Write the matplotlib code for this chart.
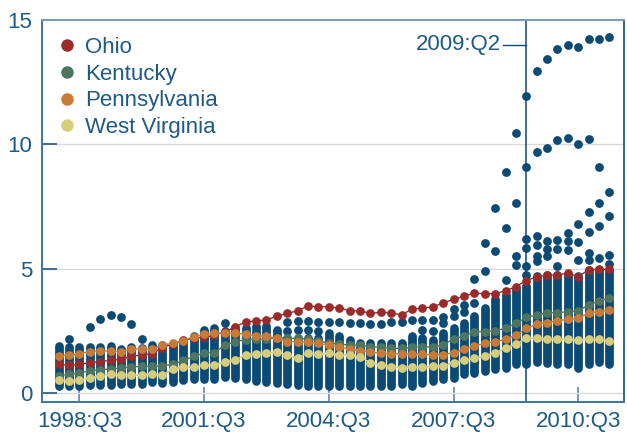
import numpy as np
import matplotlib.pyplot as plt
from matplotlib.lines import Line2D

plt.rcParams['font.family'] = ['Liberation Sans', 'DejaVu Sans']

# -------- datos --------
quarters = [f'{y}:Q{q}' for y in range(1998, 2012) for q in range(1, 5)][:54]
x = np.arange(len(quarters))

ohio = [1.15, 1.12, 1.15, 1.22, 1.26, 1.32, 1.35, 1.48, 1.53, 1.58,
        1.83, 1.98, 2.12, 2.20, 2.25, 2.32, 2.47, 2.66, 2.86, 2.90,
        2.94, 3.09, 3.20, 3.31, 3.50, 3.47, 3.47, 3.42, 3.31, 3.30,
        3.21, 3.24, 3.23, 3.14, 3.38, 3.41, 3.47, 3.62, 3.77, 3.89,
        4.02, 3.99, 4.00, 4.11, 4.28, 4.52, 4.68, 4.73, 4.75, 4.82,
        4.68, 4.96, 4.97, 4.97]
kentucky = [0.70, 0.75, 0.80, 0.90, 0.94, 0.97, 1.00, 1.05, 1.07, 1.07,
            1.10, 1.15, 1.31, 1.47, 1.61, 1.62, 1.93, 2.06, 2.15, 2.16,
            2.17, 2.23, 2.20, 2.20, 2.17, 2.10, 2.00, 1.97, 1.93, 1.93,
            1.86, 1.85, 1.80, 1.80, 1.84, 1.86, 1.84, 1.93, 2.18, 2.29,
            2.47, 2.47, 2.51, 2.60, 2.80, 3.04, 3.14, 3.23, 3.23, 3.27,
            3.31, 3.54, 3.71, 3.81]
pennsylvania = [1.50, 1.52, 1.58, 1.67, 1.70, 1.69, 1.66, 1.77, 1.77, 1.76,
                1.93, 2.00, 2.11, 2.26, 2.36, 2.40, 2.42, 2.40, 2.37, 2.30,
                2.29, 2.20, 2.07, 2.06, 2.05, 2.00, 1.93, 1.86, 1.76, 1.71,
                1.66, 1.60, 1.59, 1.57, 1.57, 1.57, 1.53, 1.54, 1.62, 1.76,
                1.89, 2.00, 2.06, 2.16, 2.33, 2.60, 2.78, 2.83, 2.91, 2.96,
                3.00, 3.23, 3.27, 3.34]
west_virginia = [0.51, 0.47, 0.53, 0.60, 0.70, 0.75, 0.72, 0.71, 0.72, 0.77,
                 0.72, 0.98, 1.05, 1.03, 1.13, 1.13, 1.25, 1.34, 1.53, 1.58,
                 1.62, 1.66, 1.52, 1.40, 1.62, 1.57, 1.60, 1.53, 1.52, 1.46,
                 1.22, 1.13, 1.06, 1.02, 1.06, 1.03, 1.09, 1.09, 1.22, 1.33,
                 1.39, 1.49, 1.62, 1.80, 1.97, 2.20, 2.20, 2.16, 2.16, 2.16,
                 2.13, 2.16, 2.16, 2.10]

# resto de las series: rango denso por trimestre + puntos sueltos
resto_min = [0.30, 0.30, 0.30, 0.32, 0.33, 0.33, 0.35, 0.35, 0.38, 0.44,
             0.39, 0.44, 0.52, 0.58, 0.55, 0.58, 0.66, 0.62, 0.55, 0.48,
             0.44, 0.39, 0.35, 0.31, 0.28, 0.28, 0.28, 0.28, 0.28, 0.28,
             0.28, 0.28, 0.28, 0.35, 0.30, 0.42, 0.48, 0.55, 0.62, 0.75,
             0.82, 0.88, 0.98, 1.02, 1.15, 1.15, 1.25, 1.20, 1.15, 1.15,
             1.02, 1.15, 1.25, 1.15]
resto_max = [1.90, 1.85, 1.86, 1.84, 1.84, 1.90, 1.77, 1.84, 1.80, 1.95,
             1.95, 1.95, 2.00, 2.30, 2.55, 2.62, 2.50, 2.60, 2.60, 2.70,
             2.70, 2.53, 2.20, 2.20, 2.20, 2.20, 2.40, 2.30, 2.13, 2.00,
             2.00, 2.00, 2.00, 2.00, 2.30, 2.20, 2.13, 2.40, 2.60, 2.80,
             3.10, 3.40, 3.80, 3.95, 4.20, 4.30, 4.70, 4.75, 4.75, 4.80,
             4.70, 4.95, 4.95, 4.95]
resto_sueltos = {
    '1998:Q2': [2.16], '1998:Q4': [2.67], '1999:Q1': [2.96], '1999:Q2': [3.14],
    '1999:Q3': [3.05], '1999:Q4': [2.76], '2000:Q1': [2.18], '2002:Q1': [2.80],
    '2003:Q3': [2.51, 2.87], '2003:Q4': [2.53, 2.90], '2004:Q1': [2.53, 2.90],
    '2004:Q2': [2.51, 2.87], '2004:Q3': [2.87], '2004:Q4': [2.87],
    '2005:Q1': [2.80], '2005:Q2': [2.82], '2005:Q3': [2.76], '2005:Q4': [2.76],
    '2006:Q1': [2.84], '2006:Q2': [2.84], '2006:Q3': [2.94],
    '2006:Q4': [2.53, 2.94], '2007:Q1': [2.51, 2.94], '2007:Q2': [2.83, 3.07],
    '2007:Q3': [3.10, 3.37], '2007:Q4': [3.27, 3.54], '2008:Q1': [3.63, 4.57],
    '2008:Q2': [4.92, 6.05], '2008:Q3': [5.72, 7.43],
    '2008:Q4': [4.55, 6.62, 8.90], '2009:Q1': [5.15, 5.51, 7.63, 10.47],
    '2009:Q2': [4.75, 5.10, 5.85, 6.20, 9.10, 11.95],
    '2009:Q3': [5.32, 5.51, 5.95, 6.32, 9.70, 12.93],
    '2009:Q4': [5.53, 5.80, 6.10, 9.84, 13.42],
    '2010:Q1': [5.11, 5.78, 6.15, 10.18, 13.82],
    '2010:Q2': [5.75, 6.13, 6.42, 10.27, 14.00],
    '2010:Q3': [5.35, 6.09, 6.79, 10.00, 13.90],
    '2010:Q4': [5.35, 5.62, 6.48, 7.29, 10.20, 14.23],
    '2011:Q1': [5.42, 6.73, 7.65, 9.10, 14.25],
    '2011:Q2': [5.19, 5.55, 7.12, 8.07, 14.31],
}

xtick_labels = ['1998:Q3', '2001:Q3', '2004:Q3', '2007:Q3', '2010:Q3']
marca = '2009:Q2'

# -------- colores --------
azul = '#0a4a75'
texto = '#1d5a86'
series = [('Ohio', ohio, '#9b2b2b'),
          ('Kentucky', kentucky, '#4e755f'),
          ('Pennsylvania', pennsylvania, '#c97a36'),
          ('West Virginia', west_virginia, '#d6cc79')]

fig = plt.figure(figsize=(6.27, 4.34), dpi=100)
ax = fig.add_axes([42/627, 1 - 402/434, (624 - 42)/627, (402 - 20)/434])

# nube de puntos azules
ax.vlines(x, resto_min, resto_max, color=azul, lw=6.3, capstyle='round', zorder=2)
sx = [quarters.index(q) for q, vals in resto_sueltos.items() for v in vals]
sy = [v for q, vals in resto_sueltos.items() for v in vals]
ax.scatter(sx, sy, s=40, color=azul, linewidths=0, zorder=2)

# estados destacados
for z, (nombre, vals, col) in enumerate(series):
    ax.plot(x, vals, color=col, lw=1, marker='o', ms=6.3, mew=0, zorder=3 + z)

# linea vertical 2009:Q2
xm = quarters.index(marca)
ax.axvline(xm, color=azul, lw=1.1, zorder=1.5)
ax.plot([xm - 2.2, xm], [14.0, 14.0], color=azul, lw=1, zorder=1.5)
ax.text(xm - 2.45, 14.0, marca, ha='right', va='center', fontsize=16, color=texto)

ax.set_xlim(-1.59, 54.4)
ax.set_ylim(-0.36, 15)
ax.set_yticks([0, 5, 10, 15])
ax.set_xticks([quarters.index(q) for q in xtick_labels])
ax.set_xticklabels(xtick_labels)

ax.yaxis.grid(True, color='#d9d9d9', lw=1)
ax.set_axisbelow(True)

ax.tick_params(axis='y', direction='in', length=11, width=1.2, color='#1d5a86',
               labelcolor=texto, labelsize=16, pad=7)
ax.tick_params(axis='x', direction='in', length=11, width=1.2, color='#5d89ab',
               labelcolor=texto, labelsize=16, pad=6.6)

ax.spines['left'].set_color('#3d76a0')
ax.spines['bottom'].set_color('#3d76a0')
ax.spines['top'].set_color('#7b9bb6')
ax.spines['right'].set_color('#2d6a96')
for s in ax.spines.values():
    s.set_linewidth(1.4)

handles = [Line2D([], [], ls='none', marker='o', ms=9, mew=0, color=col)
           for _, _, col in series]
leg = ax.legend(handles, [s[0] for s in series], loc='upper left',
                bbox_to_anchor=(0.027, 0.955), frameon=False, fontsize=16,
                handlelength=0.8, handletextpad=0.45, labelspacing=0.25,
                borderaxespad=0, borderpad=0)
for t in leg.get_texts():
    t.set_color(texto)

fig.savefig('out.png', dpi=100)
